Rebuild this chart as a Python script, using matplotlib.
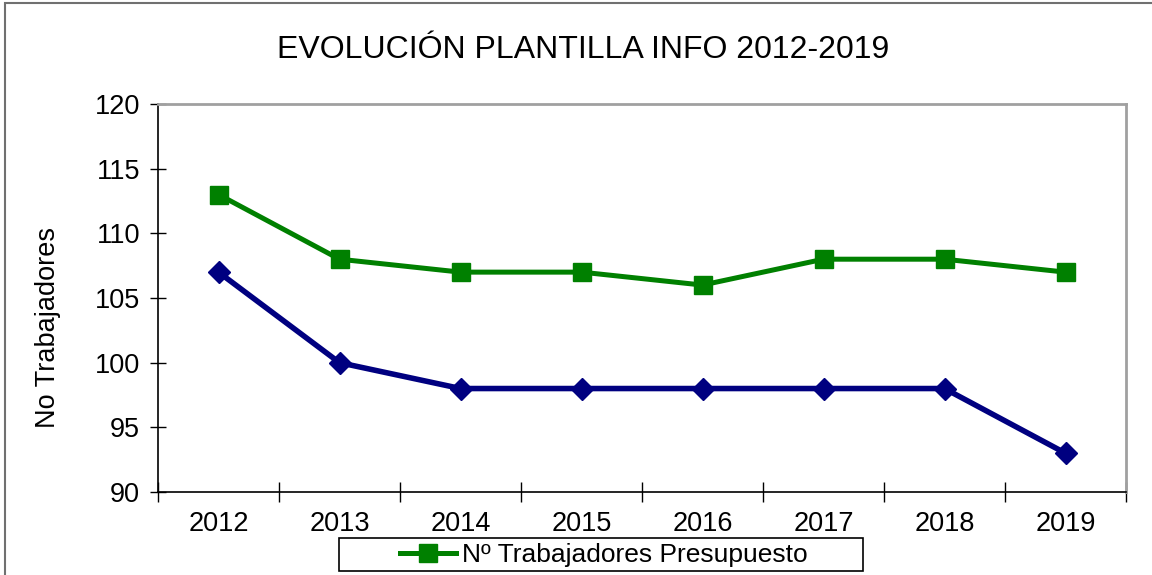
import matplotlib.pyplot as plt
import numpy as np
from matplotlib.patches import Rectangle

# datos
years = ['2012', '2013', '2014', '2015', '2016', '2017', '2018', '2019']
presupuesto = [113, 108, 107, 107, 106, 108, 108, 107]
reales = [107, 100, 98, 98, 98, 98, 98, 93]

plt.rcParams['font.family'] = ['Liberation Sans', 'DejaVu Sans']

W, H = 1152, 575
fig = plt.figure(figsize=(W/100, H/100), dpi=100)
ax = fig.add_axes([158/W, 1 - 492/H, (1126 - 158)/W, (492 - 104)/H])

x = np.arange(len(years))
ax.plot(x, reales, color='#000080', linewidth=4, marker='D', markersize=11)
ln, = ax.plot(x, presupuesto, color='#008000', linewidth=3.6, marker='s', markersize=12.5)

ax.set_xlim(-0.5, len(years) - 0.5)
ax.set_ylim(90, 120)
ax.set_yticks(range(90, 121, 5))
ax.set_xticks(x)
ax.set_xticklabels(years)
ax.set_xticks(np.arange(-0.5, len(years)), minor=True)
ax.tick_params(axis='x', which='major', length=0, pad=14, labelsize=19.5)
ax.tick_params(axis='x', which='minor', direction='inout', length=14, width=1)
ax.tick_params(axis='y', direction='inout', length=12, width=1, labelsize=19.5, pad=7)

ax.spines['top'].set_color('#a0a0a0')
ax.spines['right'].set_color('#a0a0a0')
ax.spines['top'].set_linewidth(2)
ax.spines['right'].set_linewidth(2)
ax.spines['left'].set_linewidth(1.2)
ax.spines['bottom'].set_linewidth(1.2)

ax.set_ylabel('No Trabajadores', fontsize=19.5)
ax.yaxis.set_label_coords((61 - 158)/968, 1 - (327 - 104)/388)
fig.text(583/W, 1 - 50/H, 'EVOLUCIÓN PLANTILLA INFO 2012-2019', fontsize=23,
         ha='center', va='center')

leg = fig.legend([ln], ['Nº Trabajadores Presupuesto'], loc='center',
                 bbox_to_anchor=(604/W, 1 - 555/H), fontsize=19,
                 frameon=False, handlelength=2.1, handletextpad=0.25,
                 borderpad=0, borderaxespad=0, markerscale=1.05)
# caja de la leyenda
fig.patches.append(Rectangle((339/W, 1 - 571/H), (863 - 339)/W, 33/H, transform=fig.transFigure,
                             fill=False, edgecolor='black', linewidth=1.2))

# marco exterior
fig.patches.append(Rectangle((5/W, -0.01), 1.2, 1 - 3/H + 0.01, transform=fig.transFigure,
                             fill=False, edgecolor='#707070', linewidth=1.5))

fig.savefig('out.png', dpi=100)
